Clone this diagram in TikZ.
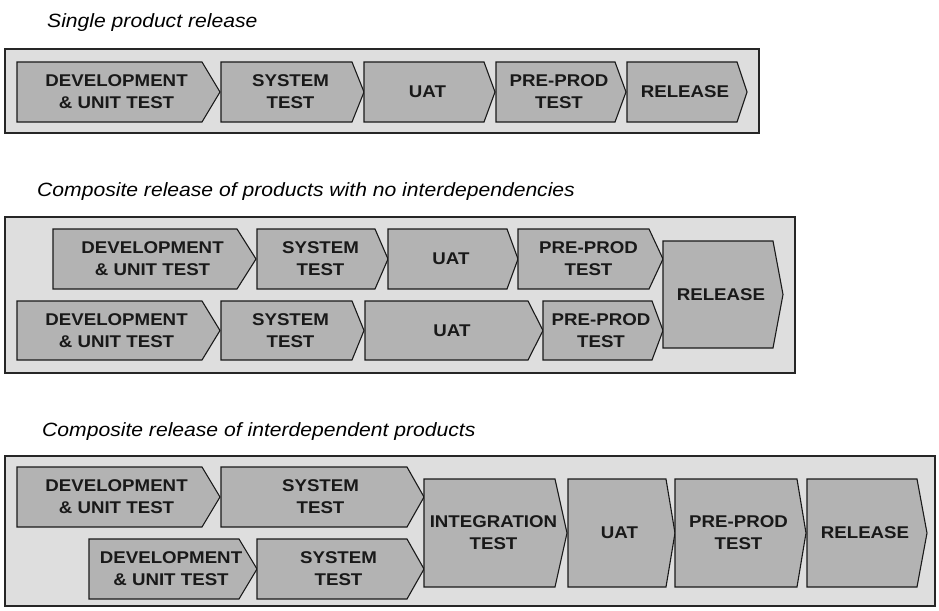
\documentclass[tikz,border=0pt]{standalone}
\usepackage{fontspec}
\setmainfont[FakeStretch=1.1]{Liberation Sans}
\definecolor{panelfill}{HTML}{DEDEDE}
\definecolor{panelline}{HTML}{262626}
\definecolor{stagefill}{HTML}{B3B3B3}
\definecolor{stageline}{HTML}{1A1A1A}
\tikzset{
  panel/.style={fill=panelfill,draw=panelline,line width=1.3pt},
  stagebox/.style={fill=stagefill,draw=stageline,line width=1.1pt,line join=miter},
  stagetext/.style={align=center,inner sep=0pt,text=black!90,
    font=\bfseries\fontsize{17}{22}\selectfont},
  heading/.style={anchor=base west,inner sep=0pt,
    font=\itshape\fontsize{19.2}{22}\selectfont}
}
% #1 name, #2 left edge, #3 start of the point, #4 tip, #5 top, #6 bottom, #7 label
\newcommand\stage[7]{%
  \path[stagebox] (#2,#5) -- (#3,#5) -- (#4,{(#5+#6)/2}) -- (#3,#6) -- (#2,#6) -- cycle;
  \node[stagetext] (#1) at ({(#2+#4)/2-2},{(#5+#6)/2}) {#7};}
\begin{document}
\begin{tikzpicture}[x=1pt,y=-1pt]
\useasboundingbox (0,0) rectangle (939,610);

% single product
\node[heading] (t1) at (47,28) {Single product release};
\path[panel] (5,49) rectangle (759,133);
\stage{dev1}{17}{202}{220}{62}{122}{DEVELOPMENT\\\& UNIT TEST}
\stage{sys1}{221}{352}{364}{62}{122}{SYSTEM\\TEST}
\stage{uat1}{364}{484}{495}{62}{122}{UAT}
\stage{pre1}{496}{615}{626}{62}{122}{PRE-PROD\\TEST}
\stage{rel1}{627}{737}{747}{62}{122}{RELEASE}

% independent products
\node[heading] (t2) at (37,196) {Composite release of products with no interdependencies};
\path[panel] (5,217) rectangle (795,373);
\stage{devA2}{53}{237}{256}{229}{289}{DEVELOPMENT\\\& UNIT TEST}
\stage{sysA2}{257}{375}{388}{229}{289}{SYSTEM\\TEST}
\stage{uatA2}{388}{507}{518}{229}{289}{UAT}
\stage{preA2}{518}{649}{663}{229}{289}{PRE-PROD\\TEST}
\stage{devB2}{17}{202}{220}{301}{360}{DEVELOPMENT\\\& UNIT TEST}
\stage{sysB2}{221}{352}{364}{301}{360}{SYSTEM\\TEST}
\stage{uatB2}{365}{528}{543}{301}{360}{UAT}
\stage{preB2}{543}{652}{663}{301}{360}{PRE-PROD\\TEST}
\stage{rel2}{663}{773}{783}{241}{348}{RELEASE}

% interdependent products
\node[heading] (t3) at (42,436) {Composite release of interdependent products};
\path[panel] (5,456) rectangle (935,606);
\stage{devA3}{17}{202}{220}{467}{527}{DEVELOPMENT\\\& UNIT TEST}
\stage{sysA3}{221}{407}{424}{467}{527}{SYSTEM\\TEST}
\stage{devB3}{89}{239}{257}{539}{599}{DEVELOPMENT\\\& UNIT TEST}
\stage{sysB3}{257}{407}{424}{539}{599}{SYSTEM\\TEST}
\stage{int3}{424}{555}{567}{479}{587}{INTEGRATION\\TEST}
\stage{uat3}{568}{666}{675}{479}{587}{UAT}
\stage{pre3}{675}{797}{806}{479}{587}{PRE-PROD\\TEST}
\stage{rel3}{807}{917}{927}{479}{587}{RELEASE}
\end{tikzpicture}
\end{document}
